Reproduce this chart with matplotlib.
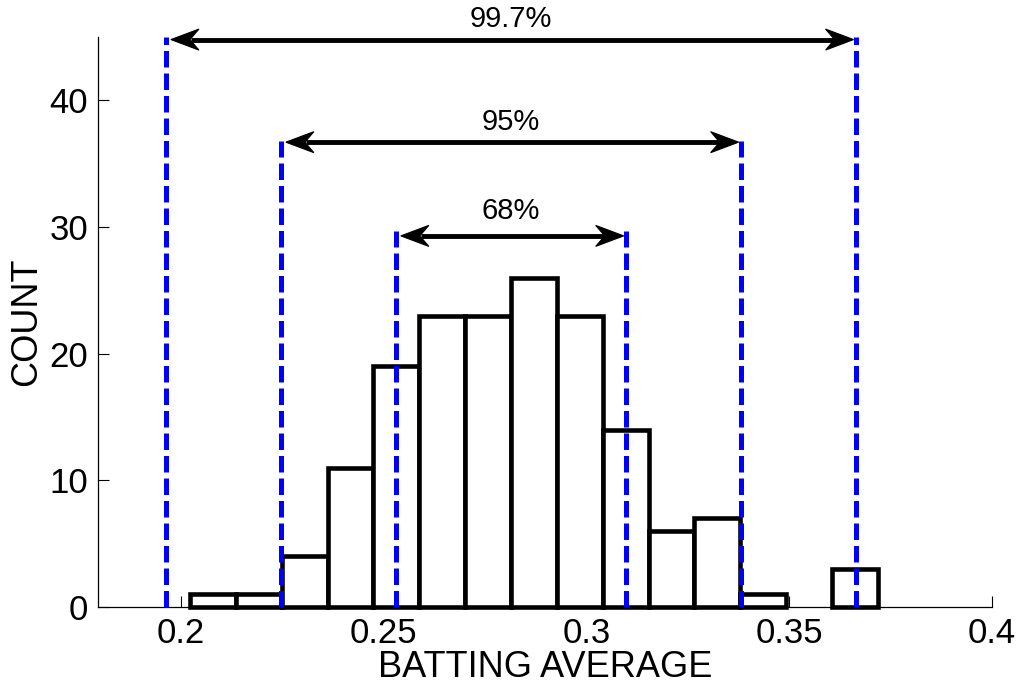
import numpy as np
import matplotlib
matplotlib.use("Agg")
import matplotlib.pyplot as plt
from matplotlib.patches import Polygon

plt.rcParams['font.family'] = ['Liberation Sans', 'DejaVu Sans']

# Histogram data
bin_start = 0.2022
bin_width = 0.01131
counts = [1, 1, 4, 11, 19, 23, 23, 26, 23, 14, 6, 7, 1, 0, 3]

# Mean / std of batting average
mean_avg = 0.2813
std_avg = 0.02835

# Interval annotations
sigmas = [1, 2, 3]
interval_labels = ["68%", "95%", "99.7%"]
line_tops = [29.7, 36.8, 45.0]
arrow_levels = [29.3, 36.7, 44.8]
label_levels = [31.3, 38.3, 46.4]

xticks = [0.2, 0.25, 0.3, 0.35, 0.4]
xticklabels = ["0.2", "0.25", "0.3", "0.35", "0.4"]
yticks = [0, 10, 20, 30, 40]

XLIM = (0.1795, 0.4)
YLIM = (0, 45)
AX_POS = [0.0962, 0.1152, 0.8773, 0.8308]
W_PX, H_PX = 1019, 686

fig = plt.figure(figsize=(W_PX / 100, H_PX / 100), dpi=100)
ax = fig.add_axes(AX_POS)
ax.set_xlim(*XLIM)
ax.set_ylim(*YLIM)

# data units per pixel
dx = (XLIM[1] - XLIM[0]) / (AX_POS[2] * W_PX)
dy = (YLIM[1] - YLIM[0]) / (AX_POS[3] * H_PX)

edges = bin_start + bin_width * np.arange(len(counts) + 1)
lefts = edges[:-1]
for l, c in zip(lefts, counts):
    if c > 0:
        ax.bar(l, c, width=bin_width, align='edge', facecolor='white',
               edgecolor='black', linewidth=3.3, zorder=3, clip_on=False)


def stealth_head(x_tip, y, direction):
    L, Wd, notch = 28, 10.5, 19
    pts = [(x_tip, y),
           (x_tip + direction * L * dx, y + Wd * dy),
           (x_tip + direction * notch * dx, y),
           (x_tip + direction * L * dx, y - Wd * dy)]
    ax.add_patch(Polygon(pts, closed=True, facecolor='black', edgecolor='black',
                         linewidth=0.8, zorder=6, clip_on=False))


for s, top, lvl, txt, lab in zip(sigmas, line_tops, arrow_levels, interval_labels, label_levels):
    lo = mean_avg - s * std_avg
    hi = mean_avg + s * std_avg
    for xv in (lo, hi):
        ax.plot([xv, xv], [0, top], color='blue', linewidth=3.6,
                dashes=(3.3, 1.2), zorder=4, clip_on=False,
                dash_capstyle='butt')
    xl = lo + 5 * dx
    xr = hi - 2 * dx
    ax.plot([xl + 20 * dx, xr - 20 * dx], [lvl, lvl], color='black', linewidth=3.5,
            zorder=5, clip_on=False, solid_capstyle='butt')
    stealth_head(xl, lvl, 1)
    stealth_head(xr, lvl, -1)
    ax.text(mean_avg, lab, txt, ha='center', va='center', fontsize=21, zorder=5)

ax.set_xticks(xticks)
ax.set_xticklabels(xticklabels)
ax.set_yticks(yticks)
ax.tick_params(direction='in', length=8, width=0.8, labelsize=25, pad=7)
ax.spines['top'].set_visible(False)
ax.spines['right'].set_visible(False)
ax.spines['left'].set_linewidth(0.9)
ax.spines['bottom'].set_linewidth(0.9)
ax.set_xlabel('BATTING AVERAGE', fontsize=26, labelpad=0)
ax.set_ylabel('COUNT', fontsize=26, labelpad=4)

fig.savefig('out.png', dpi=100)
